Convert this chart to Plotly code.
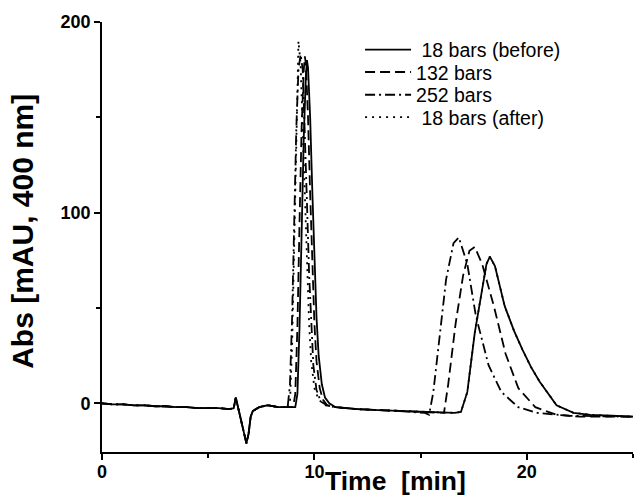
import plotly.graph_objects as go

# shared baseline (all runs overlap before the first peak)
t_base = [0, 0.5, 1, 1.5, 2, 2.5, 3, 3.5, 4, 4.5, 5, 5.5, 6, 6.2, 6.3, 6.4, 6.55, 6.7, 6.8, 6.9, 7.0, 7.1, 7.4, 7.8, 8.3]
a_base = [0, -0.5, -0.5, -1, -1, -1.5, -1.5, -2, -2, -2.5, -2.5, -2.5, -3, -2.5, 3, -2, -9, -17, -21, -16, -7, -4, -2, -1, -2]

# 18 bars (before)
t_18b = [8.8, 9.1, 9.2, 9.3, 9.4, 9.5, 9.6, 9.65, 9.7, 9.8, 9.9, 10.0, 10.1, 10.2, 10.35, 10.5, 10.7, 11, 12, 13, 14, 15, 16, 16.6,
         16.9, 17.2, 17.55, 17.9, 18.1, 18.26, 18.5, 18.96, 19.4, 19.8, 20.2, 20.6, 21.0, 21.4, 22.2, 23, 24, 25]
a_18b = [-2, -2, 5, 40, 90, 140, 172, 180, 176, 150, 112, 75, 45, 25, 10, 3, 0, -2, -3, -3.5, -4, -4.5, -5, -5,
         -4.5, 6, 37, 60, 73, 77, 72, 51, 38, 28, 19, 11.5, 5, -1, -5, -6, -6.5, -7]

# 132 bars
t_132 = [8.8, 9.0, 9.1, 9.2, 9.3, 9.4, 9.5, 9.55, 9.6, 9.7, 9.8, 9.9, 10.0, 10.1, 10.25, 10.4, 10.6, 11, 12, 13, 14, 15, 15.8,
         16.1, 16.3, 16.65, 17.0, 17.3, 17.55, 17.9, 18.45, 19.0, 19.6, 20.4, 21.4, 22.5, 24, 25]
a_132 = [-2, -2, 5, 40, 95, 145, 175, 182, 178, 150, 110, 72, 42, 22, 8, 2, -1, -2, -3, -3.5, -4, -4.5, -5,
         -5, 10, 42, 67, 80, 82, 73, 51, 26, 8, -2, -6, -7, -7, -7]

# 252 bars
t_252 = [8.6, 8.75, 8.85, 8.95, 9.05, 9.15, 9.25, 9.35, 9.45, 9.55, 9.65, 9.75, 9.85, 9.95, 10.1, 10.3, 10.6, 11, 12, 13, 14, 15.2,
         15.4, 15.6, 15.9, 16.2, 16.55, 16.8, 17.2, 17.6, 18.2, 18.8, 19.6, 20.5, 22, 25]
a_252 = [-2, -1, 10, 45, 95, 145, 175, 183, 175, 145, 105, 68, 40, 20, 7, 1, -1, -2, -3, -3.5, -4, -5,
         -6, 6, 37, 65, 84, 87, 73, 46, 20, 6, -2, -5, -6.5, -7]

# 18 bars (after)
t_18a = [8.7, 8.85, 8.95, 9.05, 9.15, 9.25, 9.35, 9.45, 9.55, 9.65, 9.75, 9.85, 10.0, 10.2, 10.5, 11, 12, 13, 14, 15, 16, 16.6,
         16.9, 17.2, 17.55, 17.9, 18.1, 18.26, 18.5, 18.96, 19.4, 19.8, 20.2, 20.6, 21.0, 21.4, 22.2, 23, 24, 25]
a_18a = [-2, 0, 30, 90, 150, 190, 178, 145, 108, 70, 42, 22, 8, 2, -1, -2, -3, -3.5, -4, -4.5, -5, -5,
         -4.5, 6, 37, 60, 73, 77, 72, 51, 38, 28, 19, 11.5, 5, -1, -5, -6, -6.5, -7]

series_names = ["\u00a018 bars (before)", "132 bars", "252 bars", "\u00a018 bars (after)"]
series_t = [t_18b, t_132, t_252, t_18a]
series_a = [a_18b, a_132, a_252, a_18a]
series_dash = ["solid", "10px,5px", "10px,4px,2px,4px", "2px,5px"]

FONT = "Liberation Sans, Arial, sans-serif"

fig = go.Figure()
legend_ids = ["legend", "legend2", "legend3", "legend4"]
for name, t, a, dash, lg in zip(series_names, series_t, series_a, series_dash, legend_ids):
    fig.add_trace(go.Scatter(
        x=t_base + t, y=a_base + a, mode="lines", name=name, legend=lg,
        line=dict(color="black", width=1.8, dash=dash),
    ))

axis_common = dict(
    showline=True, linecolor="black", linewidth=1.8, mirror=False,
    showgrid=False, zeroline=False, automargin=False,
    ticks="outside", ticklen=6, tickwidth=1.5, tickcolor="black",
    tickfont=dict(family=FONT, size=18, color="black", weight="bold"),
)

fig.update_xaxes(range=[0, 25], tick0=0, dtick=10, ticklabelstandoff=-4,
                 minor=dict(dtick=5, ticks="outside", ticklen=4, tickwidth=1.5, tickcolor="black"),
                 **axis_common)
fig.update_yaxes(range=[-25.5, 200], tick0=0, dtick=100,
                 minor=dict(dtick=50, ticks="outside", ticklen=4, tickwidth=1.5, tickcolor="black"),
                 **axis_common)

# one legend per row so the row spacing matches the reference
row_y = [0.935, 0.883, 0.830, 0.778]
legend_style = dict(x=0.486, xanchor="left", yanchor="middle",
                    font=dict(family=FONT, size=19.5, color="black"),
                    itemwidth=46, bgcolor="rgba(0,0,0,0)")
legends = {lg: dict(y=yy, **legend_style) for lg, yy in zip(legend_ids, row_y)}

fig.update_layout(
    width=634, height=496, autosize=False,
    margin=dict(l=102, r=1, t=22, b=44),
    paper_bgcolor="white", plot_bgcolor="white",
    showlegend=True,
    annotations=[
        dict(text="Time  [min]", xref="paper", yref="paper", x=0.552, y=0, yshift=-29,
             xanchor="center", yanchor="middle", showarrow=False,
             font=dict(family=FONT, size=26.5, color="black", weight="bold")),
        dict(text="Abs [mAU, 400 nm]", xref="paper", yref="paper", x=0, xshift=-79, y=0.512,
             xanchor="center", yanchor="middle", textangle=-90, showarrow=False,
             font=dict(family=FONT, size=30, color="black", weight="bold")),
    ],
    **legends,
)

fig.write_html("out.html", config={"displayModeBar": False},
               post_script="document.body.style.margin='0';document.body.style.overflow='hidden';")
